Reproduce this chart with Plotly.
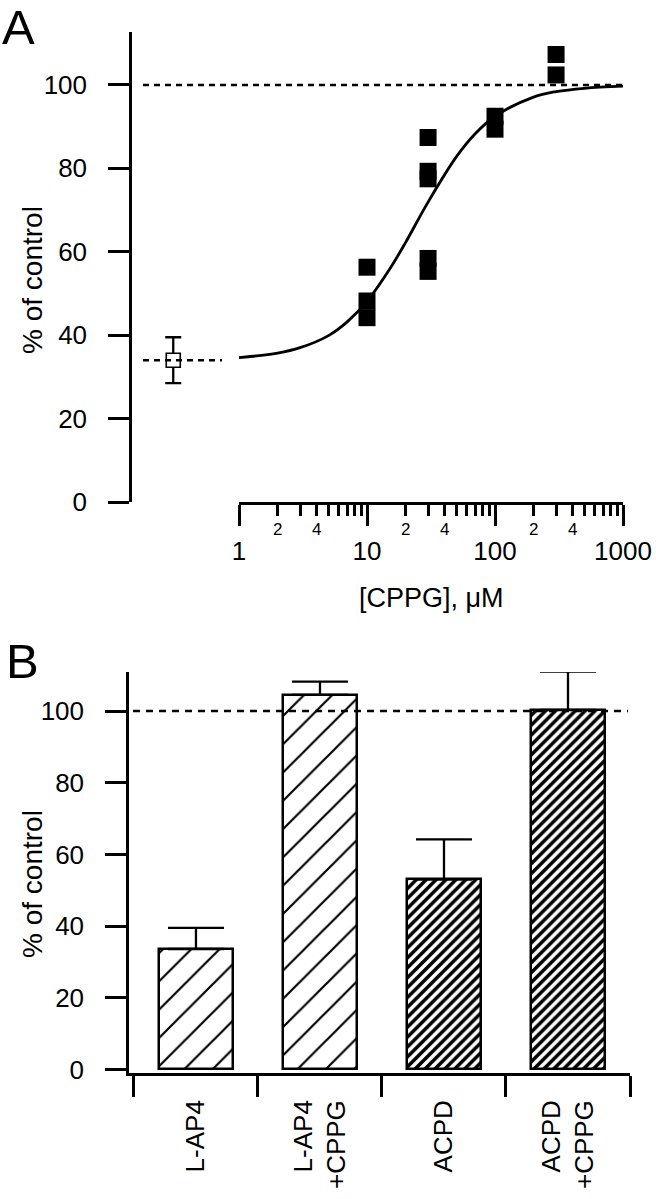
import math
import plotly.graph_objects as go

W, H = 656, 1199
FONT = "Liberation Sans"

# ---------------- Panel A data ----------------
CURVE_X = [1, 2, 3, 5, 7, 10, 15, 20, 30, 50, 70, 100, 200, 300, 500, 1000]
CURVE_Y = [34.6, 35.7, 37.0, 39.9, 43.2, 48.1, 55.8, 62.2, 71.9, 82.8, 88.3, 92.5, 97.1, 98.4, 99.2, 99.7]
PTS_X = [10, 10, 10, 30, 30, 30, 30, 30, 100, 100, 300, 300]
PTS_Y = [56.3, 48.2, 44.2, 87.4, 79.3, 77.5, 58.4, 55.3, 92.5, 89.4, 107.3, 102.4]
CONTROL_LABEL = ["control"]
CONTROL_MEAN = [34.0]
CONTROL_SD = [5.5]
REF_LEVEL = 100
A_YTICKS = [0, 20, 40, 60, 80, 100]
A_XMAJOR = [1, 10, 100, 1000]
A_XMAJOR_TEXT = ["1", "10", "100", "1000"]
A_XMINOR = [2, 3, 4, 5, 6, 7, 8, 9, 20, 30, 40, 50, 60, 70, 80, 90, 200, 300, 400, 500, 600, 700, 800, 900]
A_XMINOR_LABELS = [2, 4, 20, 40, 200, 400]
A_XMINOR_TEXT = ["2", "4", "2", "4", "2", "4"]

# ---------------- Panel B data ----------------
B_CATS = ["L-AP4", "L-AP4<br>+CPPG", "ACPD", "ACPD<br>+CPPG"]
B_MEANS = [33.6, 104.5, 53.0, 100.3]
B_ERR = [5.9, 3.7, 11.2, 10.7]
B_YTICKS = [0, 20, 40, 60, 80, 100]


def px_x(p):
    return p / W


def px_y(p):
    return 1 - p / H


fig = go.Figure()

# fitted curve
fig.add_trace(go.Scatter(x=CURVE_X, y=CURVE_Y, mode="lines", line=dict(color="black", width=2.8, shape="spline"),
                         xaxis="x", yaxis="y", showlegend=False, hoverinfo="skip"))
# data points
fig.add_trace(go.Scatter(x=PTS_X, y=PTS_Y, mode="markers",
                         marker=dict(symbol="square", size=17, color="black", line=dict(width=0)),
                         xaxis="x", yaxis="y", showlegend=False, cliponaxis=False))
# control
fig.add_trace(go.Scatter(x=CONTROL_LABEL, y=CONTROL_MEAN, mode="markers",
                         marker=dict(symbol="square", size=14, color="white", line=dict(width=1.6, color="black")),
                         error_y=dict(type="data", array=CONTROL_SD, color="black", thickness=2.3, width=8),
                         xaxis="x2", yaxis="y", showlegend=False, cliponaxis=False))

# bars
patterns = [
    dict(shape="/", bgcolor="white", fgcolor="black", fgopacity=1, size=20, solidity=0.11),
    dict(shape="/", bgcolor="white", fgcolor="black", fgopacity=1, size=20, solidity=0.11),
    dict(shape="/", bgcolor="white", fgcolor="black", fgopacity=1, size=7, solidity=0.5),
    dict(shape="/", bgcolor="white", fgcolor="black", fgopacity=1, size=7, solidity=0.5),
]
for i in range(4):
    fig.add_trace(go.Bar(x=[B_CATS[i]], y=[B_MEANS[i]], width=0.59,
                         marker=dict(color="white", pattern=patterns[i], line=dict(color="black", width=2.5)),
                         error_y=dict(type="data", array=[B_ERR[i]], arrayminus=[0], symmetric=False,
                                      color="black", thickness=2.3, width=28),
                         xaxis="x3", yaxis="y3", showlegend=False, cliponaxis=False))

axis_common = dict(showgrid=False, zeroline=False, color="black", linecolor="black", tickcolor="black",
                   automargin=False, tickfont=dict(family=FONT, size=26, color="black"))

fig.update_layout(
    width=W, height=H, autosize=False, margin=dict(l=0, r=0, t=0, b=0, pad=0, autoexpand=False),
    paper_bgcolor="white", plot_bgcolor="rgba(0,0,0,0)",
    font=dict(family=FONT, color="black"),
    bargap=0,
    xaxis=dict(type="log", domain=[px_x(239), px_x(623)], range=[0, 3], anchor="y",
               showline=True, linewidth=2.5, ticks="outside", ticklen=21, tickwidth=2.5,
               tickmode="array", tickvals=A_XMAJOR, ticktext=A_XMAJOR_TEXT, ticklabelstandoff=3,
               minor=dict(tickmode="array", tickvals=A_XMINOR, ticks="outside", ticklen=11, tickwidth=2.5,
                          tickcolor="black", showgrid=False),
               **axis_common),
    xaxis2=dict(type="category", domain=[px_x(130), px_x(623)], range=[-0.5, 5.2], anchor="y",
                visible=False, showgrid=False, automargin=False),
    yaxis=dict(domain=[px_y(502), px_y(32)], range=[0, 112.7], anchor="free", position=px_x(130),
               showline=True, linewidth=2.5, ticks="outside", ticklen=21, tickwidth=2.5,
               tickmode="array", tickvals=A_YTICKS, ticklabelstandoff=16, **axis_common),
    xaxis3=dict(type="category", domain=[px_x(129), px_x(630)], range=[-0.54, 3.5], anchor="y3",
                showline=True, linewidth=2.5, ticks="outside", ticklen=21, tickwidth=2.5,
                tickson="boundaries", tickangle=-90, ticklabelstandoff=14, **axis_common),
    yaxis3=dict(domain=[px_y(1073), px_y(672)], range=[-1, 110.9], anchor="x3",
                showline=True, linewidth=2.5, ticks="outside", ticklen=21, tickwidth=2.5,
                tickmode="array", tickvals=B_YTICKS, ticklabelstandoff=16, **axis_common),
)

dash_a = "6px,5px"
dash_b = "7px,6px"
shapes = [
    dict(type="line", xref="x2 domain", yref="y", x0=(143 - 130) / 493, x1=1, y0=REF_LEVEL, y1=REF_LEVEL,
         line=dict(color="black", width=2.5, dash=dash_a)),
    dict(type="line", xref="x2 domain", yref="y", x0=(143 - 130) / 493, x1=(222 - 130) / 493,
         y0=CONTROL_MEAN[0], y1=CONTROL_MEAN[0], line=dict(color="black", width=2.5, dash=dash_a)),
    dict(type="line", xref="x3 domain", yref="y3", x0=0.008, x1=0.996, y0=REF_LEVEL, y1=REF_LEVEL,
         line=dict(color="black", width=2.5, dash=dash_b)),
]
fig.update_layout(shapes=shapes)

annotations = []
for xv, t in zip(A_XMINOR_LABELS, A_XMINOR_TEXT):
    annotations.append(dict(x=math.log10(xv), xref="x", y=px_y(529), yref="paper", text=t, showarrow=False,
                            font=dict(family=FONT, size=17, color="black"), xanchor="center", yanchor="middle"))
annotations += [
    dict(x=px_x(431), y=px_y(598), xref="paper", yref="paper", text="[CPPG], μM", showarrow=False,
         font=dict(family=FONT, size=27, color="black"), xanchor="center", yanchor="middle"),
    dict(x=px_x(32), y=px_y(280), xref="paper", yref="paper", text="% of control", showarrow=False, textangle=-90,
         font=dict(family=FONT, size=28, color="black"), xanchor="center", yanchor="middle"),
    dict(x=px_x(32), y=px_y(884), xref="paper", yref="paper", text="% of control", showarrow=False, textangle=-90,
         font=dict(family=FONT, size=28, color="black"), xanchor="center", yanchor="middle"),
    dict(x=px_x(0), y=px_y(-2), xref="paper", yref="paper", text="A", showarrow=False,
         font=dict(family=FONT, size=49, color="black"), xanchor="left", yanchor="top"),
    dict(x=px_x(4), y=px_y(632), xref="paper", yref="paper", text="B", showarrow=False,
         font=dict(family=FONT, size=49, color="black"), xanchor="left", yanchor="top"),
]
fig.update_layout(annotations=annotations)

fig.write_html("out.html", config={"displayModeBar": False},
               post_script="document.body.style.margin='0px';document.body.style.overflow='hidden';")
